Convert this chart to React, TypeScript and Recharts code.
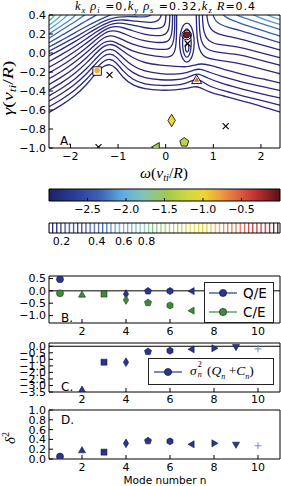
import React from "react"
import {
  ComposedChart,
  Legend,
  Line,
  ReferenceArea,
  ReferenceLine,
  Scatter,
  XAxis,
  YAxis,
} from "recharts"

const SANS = "DejaVu Sans"
const MATH = "Liberation Serif"
const NAVY = "#28297f"
const BLUE = "#2a3592"
const GREEN = "#3d8c3d"

// ---------- panel A: contours over (omega, gamma) ----------
// lines that pass under the bump near omega=-1.2 and under the well near omega=0.45
const lowerArches = [
  [[-2.5, -0.64], [-2.2, -0.555], [-1.9, -0.45], [-1.65, -0.33], [-1.45, -0.2], [-1.3, -0.135], [-1.17, -0.115], [-1.05, -0.15], [-0.9, -0.26], [-0.7, -0.34], [-0.45, -0.38], [-0.1, -0.395], [0.2, -0.39], [0.45, -0.375], [0.6, -0.35], [0.72, -0.36], [0.9, -0.41], [1.2, -0.45], [1.5, -0.49], [1.8, -0.53], [2.1, -0.575], [2.45, -0.63]],
  [[-2.5, -0.58], [-2.2, -0.495], [-1.9, -0.39], [-1.65, -0.275], [-1.45, -0.155], [-1.3, -0.08], [-1.17, -0.06], [-1.05, -0.09], [-0.9, -0.19], [-0.7, -0.28], [-0.45, -0.33], [-0.1, -0.345], [0.2, -0.34], [0.4, -0.325], [0.55, -0.29], [0.65, -0.27], [0.75, -0.29], [0.9, -0.35], [1.2, -0.395], [1.5, -0.435], [1.8, -0.475], [2.1, -0.51], [2.45, -0.555]],
  [[-2.5, -0.52], [-2.2, -0.435], [-1.9, -0.33], [-1.65, -0.215], [-1.45, -0.1], [-1.3, -0.025], [-1.17, -0.005], [-1.05, -0.03], [-0.9, -0.12], [-0.7, -0.21], [-0.45, -0.265], [-0.1, -0.285], [0.2, -0.285], [0.45, -0.265], [0.6, -0.225], [0.7, -0.215], [0.85, -0.26], [1.2, -0.325], [1.5, -0.365], [1.8, -0.405], [2.1, -0.44], [2.45, -0.48]],
  [[-2.5, -0.465], [-2.2, -0.38], [-1.9, -0.275], [-1.65, -0.16], [-1.45, -0.05], [-1.3, 0.025], [-1.17, 0.045], [-1.05, 0.025], [-0.9, -0.05], [-0.7, -0.135], [-0.45, -0.195], [-0.1, -0.22], [0.2, -0.225], [0.45, -0.21], [0.6, -0.175], [0.72, -0.165], [0.9, -0.2], [1.2, -0.25], [1.5, -0.29], [1.8, -0.33], [2.1, -0.36], [2.45, -0.4]],
  [[-2.5, -0.405], [-2.2, -0.32], [-1.9, -0.215], [-1.65, -0.1], [-1.45, 0.005], [-1.3, 0.075], [-1.17, 0.095], [-1.05, 0.08], [-0.9, 0.02], [-0.7, -0.05], [-0.45, -0.105], [-0.1, -0.13], [0.2, -0.14], [0.45, -0.15], [0.62, -0.125], [0.75, -0.11], [0.95, -0.13], [1.2, -0.17], [1.5, -0.21], [1.8, -0.25], [2.1, -0.28], [2.45, -0.32]],
]

// lines from the left edge that turn up beside the well and leave through the top
const leftRisers = [
  [[-2.5, -0.345], [-2.2, -0.26], [-1.9, -0.155], [-1.65, -0.045], [-1.45, 0.055], [-1.3, 0.115], [-1.17, 0.13], [-1.05, 0.115], [-0.9, 0.07], [-0.7, 0.02], [-0.45, -0.015], [-0.2, -0.035], [0.0, -0.045], [0.1, -0.04], [0.17, -0.01], [0.21, 0.05], [0.225, 0.15], [0.23, 0.25], [0.23, 0.35], [0.23, 0.45]],
  [[-2.5, -0.285], [-2.2, -0.2], [-1.9, -0.095], [-1.65, 0.01], [-1.45, 0.1], [-1.3, 0.165], [-1.17, 0.185], [-1.05, 0.175], [-0.9, 0.14], [-0.7, 0.09], [-0.45, 0.055], [-0.2, 0.04], [0.0, 0.035], [0.08, 0.045], [0.14, 0.08], [0.175, 0.15], [0.19, 0.25], [0.19, 0.35], [0.19, 0.45]],
  [[-2.5, -0.225], [-2.2, -0.14], [-1.9, -0.04], [-1.65, 0.06], [-1.45, 0.145], [-1.3, 0.205], [-1.17, 0.235], [-1.05, 0.235], [-0.9, 0.21], [-0.7, 0.165], [-0.45, 0.125], [-0.2, 0.11], [-0.02, 0.11], [0.07, 0.13], [0.12, 0.18], [0.14, 0.26], [0.145, 0.35], [0.145, 0.45]],
  [[-2.5, -0.165], [-2.2, -0.08], [-1.9, 0.015], [-1.65, 0.11], [-1.45, 0.185], [-1.3, 0.24], [-1.17, 0.27], [-1.05, 0.28], [-0.9, 0.27], [-0.7, 0.235], [-0.45, 0.195], [-0.2, 0.18], [-0.05, 0.185], [0.03, 0.21], [0.07, 0.26], [0.085, 0.33], [0.09, 0.45]],
  [[-2.5, -0.105], [-2.2, -0.02], [-1.9, 0.07], [-1.65, 0.155], [-1.45, 0.225], [-1.3, 0.27], [-1.17, 0.3], [-1.05, 0.315], [-0.9, 0.315], [-0.7, 0.295], [-0.45, 0.265], [-0.25, 0.255], [-0.1, 0.26], [-0.03, 0.285], [0.0, 0.33], [0.01, 0.45]],
  [[-2.5, -0.045], [-2.2, 0.035], [-1.9, 0.12], [-1.65, 0.2], [-1.45, 0.26], [-1.3, 0.3], [-1.17, 0.33], [-1.05, 0.345], [-0.9, 0.35], [-0.7, 0.34], [-0.45, 0.325], [-0.3, 0.32], [-0.17, 0.335], [-0.1, 0.37], [-0.08, 0.45]],
  [[-2.5, 0.005], [-2.2, 0.085], [-1.9, 0.165], [-1.65, 0.24], [-1.45, 0.295], [-1.3, 0.335], [-1.17, 0.36], [-1.0, 0.38], [-0.8, 0.385], [-0.55, 0.38], [-0.4, 0.38], [-0.3, 0.395], [-0.25, 0.45]],
]

// arcs in the top-left corner
const leftCorner = [
  [[-2.5, 0.05], [-2.2, 0.13], [-1.9, 0.215], [-1.65, 0.285], [-1.45, 0.335], [-1.3, 0.37], [-1.15, 0.4], [-1.05, 0.43]],
  [[-2.5, 0.095], [-2.2, 0.18], [-1.95, 0.255], [-1.75, 0.315], [-1.55, 0.37], [-1.4, 0.42]],
  [[-2.5, 0.14], [-2.25, 0.22], [-2.05, 0.285], [-1.85, 0.345], [-1.65, 0.42]],
  [[-2.5, 0.185], [-2.3, 0.25], [-2.1, 0.315], [-1.95, 0.37], [-1.85, 0.42]],
  [[-2.5, 0.23], [-2.3, 0.3], [-2.15, 0.355], [-2.03, 0.42]],
  [[-2.5, 0.275], [-2.35, 0.33], [-2.22, 0.38], [-2.17, 0.42]],
  [[-2.5, 0.32], [-2.38, 0.365], [-2.3, 0.42]],
  [[-2.5, 0.36], [-2.42, 0.42]],
]

// lines that come down from the top beside the well and run to the right edge
const rightDrops = [
  [[0.64, 0.45], [0.645, 0.3], [0.66, 0.15], [0.7, 0.04], [0.78, -0.03], [0.9, -0.06], [1.1, -0.075], [1.3, -0.09], [1.55, -0.11], [1.8, -0.14], [2.1, -0.18], [2.45, -0.225]],
  [[0.7, 0.45], [0.705, 0.3], [0.72, 0.18], [0.77, 0.09], [0.86, 0.04], [1.0, 0.015], [1.2, 0.0], [1.4, -0.01], [1.55, -0.02], [1.8, -0.05], [2.1, -0.09], [2.45, -0.135]],
  [[0.77, 0.45], [0.775, 0.32], [0.8, 0.22], [0.86, 0.15], [0.96, 0.11], [1.1, 0.09], [1.3, 0.08], [1.55, 0.06], [1.8, 0.03], [2.1, -0.01], [2.45, -0.055]],
  [[0.86, 0.45], [0.87, 0.35], [0.91, 0.28], [0.98, 0.23], [1.1, 0.2], [1.3, 0.175], [1.55, 0.15], [1.8, 0.115], [2.1, 0.075], [2.45, 0.025]],
  [[0.98, 0.45], [1.0, 0.38], [1.06, 0.33], [1.15, 0.3], [1.3, 0.27], [1.55, 0.24], [1.8, 0.2], [2.1, 0.155], [2.45, 0.1]],
  [[1.15, 0.45], [1.2, 0.4], [1.3, 0.365], [1.42, 0.34], [1.55, 0.315], [1.8, 0.275], [2.1, 0.225], [2.45, 0.17]],
  [[1.38, 0.45], [1.45, 0.41], [1.55, 0.385], [1.8, 0.345], [2.1, 0.295], [2.45, 0.24]],
  [[1.7, 0.45], [1.8, 0.41], [2.0, 0.365], [2.2, 0.33], [2.45, 0.295]],
  [[1.98, 0.45], [2.1, 0.41], [2.25, 0.375], [2.45, 0.345]],
  [[2.22, 0.45], [2.3, 0.415], [2.45, 0.385]],
]

// closed contours around the well
const wellLoops = [
  [[0.605, 0.11], [0.584, 0.2175], [0.525, 0.296], [0.445, 0.325], [0.365, 0.296], [0.306, 0.2175], [0.285, 0.11], [0.306, 0.0025], [0.365, -0.076], [0.445, -0.105], [0.525, -0.076], [0.584, 0.0025]],
  [[0.54, 0.105], [0.527, 0.1825], [0.4925, 0.239], [0.445, 0.26], [0.3975, 0.239], [0.363, 0.1825], [0.35, 0.105], [0.363, 0.0275], [0.3975, -0.029], [0.445, -0.05], [0.4925, -0.029], [0.527, 0.0275]],
  [[0.49, 0.055], [0.478, 0.09], [0.45, 0.105], [0.422, 0.09], [0.41, 0.055], [0.422, 0.02], [0.45, 0.005], [0.478, 0.02]],
]

const leftRiserColors = [NAVY, NAVY, NAVY, NAVY, NAVY, NAVY, "#2c3a8f"]
const leftCornerColors = ["#2f4598", "#3457ac", "#3d6fc1", "#4b8bd0", "#5ba3d9", "#58aab5", "#62b08e", "#74b36b"]
const rightDropColors = [NAVY, NAVY, NAVY, NAVY, "#2f469a", "#365cb0", "#4176c6", "#4f92d4", "#5aaad0", "#6ab39a"]

// eigenvalues (mode n) and other roots
const eigModes = [1, 2, 3, 4, 5, 7]
const eigOmega = [0.44, 0.65, -1.44, 0.125, 0.39, -0.19]
const eigGamma = [0.19, -0.29, -0.19, -0.71, -0.94, -0.99]
const eigLog10 = [-0.1, -0.55, -0.85, -1.0, -1.3, -1.45]
const rootOmega = [-1.18, 0.46, 1.26, -1.41]
const rootGamma = [-0.23, 0.1, -0.77, -0.99]

// ---------- panels B-D ----------
const modeN = [1, 2, 3, 4, 5, 6, 7, 8, 9, 10]
const qOverE = [0.47, null, null, -0.13, -0.01, -0.01, -0.01, null, null, null]
const cOverE = [-0.1, -0.17, -0.13, -0.37, -0.48, -0.59, -0.8, null, null, null]
const sigmaQC = [null, -3.35, -1.22, -1.22, -0.41, -0.34, -0.23, -0.15, -0.03, -0.2]
const delta2 = [0.05, 0.17, 0.14, 0.32, 0.37, 0.36, 0.3, 0.32, 0.3, 0.27]

const omegaTicks = [-2, -1, 0, 1, 2]
const gammaTicks = [0.4, 0.2, 0, -0.2, -0.4, -0.6, -0.8, -1.0]
const cb1Ticks = [-2.5, -2, -1.5, -1, -0.5]
const cb2Ticks = [0.2, 0.4, 0.6, 0.8]
const nTicks = [2, 4, 6, 8, 10]
const bTicks = [0.5, 0, -0.5, -1]
const cTicks = [0, -0.5, -1, -1.5, -2, -2.5, -3, -3.5]
const dTicks = [0, 0.2, 0.4, 0.6, 0.8, 1]

const MODE_MARK = ["o", "^", "s", "d", "p", "h", "<", ">", "v", "+"]

const JET_STOPS = [0, 0.1, 0.22, 0.32, 0.41, 0.51, 0.6, 0.67, 0.74, 0.81, 0.89, 1]
const JET_COLORS = ["#1c2266", "#273a94", "#3d62b4", "#62ace2", "#82c4b4", "#a2c850", "#d0d840", "#eed630", "#eea040", "#e06a40", "#c43232", "#5a1014"]

function hex(c: string) {
  return [1, 3, 5].map((i) => parseInt(c.slice(i, i + 2), 16))
}

function jet(t: number) {
  const x = Math.min(1, Math.max(0, t))
  let i = 0
  while (i < JET_STOPS.length - 2 && x > JET_STOPS[i + 1]) i++
  const f = (x - JET_STOPS[i]) / (JET_STOPS[i + 1] - JET_STOPS[i])
  const a = hex(JET_COLORS[i])
  const b = hex(JET_COLORS[i + 1])
  const m = a.map((v, k) => Math.round(v + (b[k] - v) * f))
  return `rgb(${m[0]},${m[1]},${m[2]})`
}

const fmt1 = (v: number) => (Math.abs(v) < 1e-9 ? "0.0" : v.toFixed(1)).replace("-", "\u2212")
const fmt0 = (v: number) => String(v).replace("-", "\u2212")
const toPts = (arr: number[][]) => arr.map(([w, g]) => ({ w, g }))

function ngon(k: number, r: number) {
  const out: number[][] = []
  for (let i = 0; i < k; i++) {
    const a = -Math.PI / 2 + (2 * Math.PI * i) / k
    out.push([r * Math.cos(a), r * Math.sin(a)])
  }
  return out
}

function marker(kind: string, cx: number, cy: number, s: number, fill: string, stroke: string, sw: number) {
  const r = s / 2
  let pts: number[][] | null = null
  switch (kind) {
    case "o":
      return <circle cx={cx} cy={cy} r={r} fill={fill} stroke={stroke} strokeWidth={sw} />
    case "^":
      pts = [[0, -1.15 * r], [-r, 0.6 * r], [r, 0.6 * r]]
      break
    case "v":
      pts = [[0, 1.15 * r], [-r, -0.6 * r], [r, -0.6 * r]]
      break
    case "<":
      pts = [[-1.15 * r, 0], [0.6 * r, -r], [0.6 * r, r]]
      break
    case ">":
      pts = [[1.15 * r, 0], [-0.6 * r, -r], [-0.6 * r, r]]
      break
    case "s":
      pts = [[-0.85 * r, -0.85 * r], [0.85 * r, -0.85 * r], [0.85 * r, 0.85 * r], [-0.85 * r, 0.85 * r]]
      break
    case "d":
      pts = [[0, -1.25 * r], [0.75 * r, 0], [0, 1.25 * r], [-0.75 * r, 0]]
      break
    case "p":
      pts = ngon(5, 1.05 * r)
      break
    case "h":
      pts = ngon(6, 1.0 * r)
      break
    case "+":
      return (
        <path d={`M${cx - r},${cy}H${cx + r}M${cx},${cy - r}V${cy + r}`} stroke={fill} strokeWidth={1} fill="none" />
      )
    case "x":
      return (
        <path
          d={`M${cx - r},${cy - r}L${cx + r},${cy + r}M${cx - r},${cy + r}L${cx + r},${cy - r}`}
          stroke={fill}
          strokeWidth={1.1}
          fill="none"
        />
      )
  }
  return (
    <polygon
      points={(pts || []).map(([x, y]) => `${cx + x},${cy + y}`).join(" ")}
      fill={fill}
      stroke={stroke}
      strokeWidth={sw}
    />
  )
}

const eigPts = eigModes.map((n, i) => ({ n, w: eigOmega[i], g: eigGamma[i], lv: eigLog10[i] }))
const rootPts = rootOmega.map((w, i) => ({ w, g: rootGamma[i] }))
const series = (vals: (number | null)[]) =>
  modeN.map((n, i) => ({ n, v: vals[i] })).filter((d) => d.v !== null)

function eigShape(p: any) {
  const { n, lv } = p.payload
  const { cx, cy } = p
  const kind = MODE_MARK[n - 1]
  const c = jet((lv + 3) / 3)
  if (n === 1)
    return (
      <g>
        <circle cx={cx} cy={cy} r={4.8} fill="none" stroke="#000" strokeWidth={0.9} />
        <circle cx={cx} cy={cy} r={3.2} fill={c} stroke="#000" strokeWidth={0.5} />
      </g>
    )
  if (n <= 3)
    return (
      <g>
        {marker(kind, cx, cy, 10, "#fff", "#000", 0.9)}
        {marker(kind === "s" ? "o" : kind, cx, cy - 0.5, 5.5, c, "none", 0)}
      </g>
    )
  return marker(kind, cx, cy, kind === "d" ? 10 : 9, c, "#000", 0.8)
}

const modeShape = (fill: string, edge: string, plus: string) => (p: any) => {
  const kind = MODE_MARK[p.payload.n - 1]
  return marker(kind, p.cx, p.cy, 7, kind === "+" ? plus : fill, edge, 0.6)
}

const tickStyle = { fill: "#000", fontSize: 11, fontFamily: SANS }

function frame(dom: number[], ticksX: number[], yDom: number[], ticksY: number[]) {
  return [
    <XAxis key="t" xAxisId="t" orientation="top" type="number" domain={dom} allowDataOverflow ticks={ticksX} interval={0} height={1} tickSize={-4} tick={false} stroke="#000" />,
    <YAxis key="r" yAxisId="r" orientation="right" type="number" domain={yDom} allowDataOverflow ticks={ticksY} interval={0} width={1} tickSize={-4} tick={false} stroke="#000" />,
  ]
}

const LabelsA = () => (
  <g>
    <text x={165} y={10} textAnchor="middle" fontFamily={MATH} fontSize={12.5} textLength={180} lengthAdjust="spacing">
      <tspan fontStyle="italic">k</tspan>
      <tspan fontStyle="italic" fontSize={8.5} dy={2.5}>x</tspan>
      <tspan fontStyle="italic" dy={-2.5}> ρ</tspan>
      <tspan fontStyle="italic" fontSize={8.5} dy={2.5}>i</tspan>
      <tspan fontFamily={SANS} fontSize={11} dy={-2.5}> =0,</tspan>
      <tspan fontStyle="italic">k</tspan>
      <tspan fontStyle="italic" fontSize={8.5} dy={2.5}>y</tspan>
      <tspan fontStyle="italic" dy={-2.5}> ρ</tspan>
      <tspan fontStyle="italic" fontSize={8.5} dy={2.5}>s</tspan>
      <tspan fontFamily={SANS} fontSize={11} dy={-2.5}> =0.32,</tspan>
      <tspan fontStyle="italic">k</tspan>
      <tspan fontStyle="italic" fontSize={8.5} dy={2.5}>z</tspan>
      <tspan fontStyle="italic" dy={-2.5}> R</tspan>
      <tspan fontFamily={SANS} fontSize={11}>=0.4</tspan>
    </text>
    <text x={164} y={178} textAnchor="middle" fontFamily={MATH} fontSize={15} textLength={48} lengthAdjust="spacingAndGlyphs">
      <tspan fontStyle="italic">ω</tspan>
      <tspan>(</tspan>
      <tspan fontStyle="italic">v</tspan>
      <tspan fontStyle="italic" fontSize={10} dy={3}>ti</tspan>
      <tspan dy={-3}>/</tspan>
      <tspan fontStyle="italic">R</tspan>
      <tspan>)</tspan>
    </text>
    <text transform="translate(13,88) rotate(-90)" textAnchor="middle" fontFamily={MATH} fontSize={14} textLength={55} lengthAdjust="spacingAndGlyphs">
      <tspan fontStyle="italic">γ</tspan>
      <tspan>(</tspan>
      <tspan fontStyle="italic">v</tspan>
      <tspan fontStyle="italic" fontSize={9.5} dy={3}>ti</tspan>
      <tspan dy={-3}>/</tspan>
      <tspan fontStyle="italic">R</tspan>
      <tspan>)</tspan>
    </text>
    <text x={60} y={145} fontFamily={SANS} fontSize={12}>A.</text>
  </g>
)

const LabelB = () => (
  <text x={61} y={52} fontFamily={SANS} fontSize={12}>B.</text>
)

const LabelC = () => (
  <text x={61} y={51} fontFamily={SANS} fontSize={12}>C.</text>
)

const LabelsD = () => (
  <g>
    <text x={61} y={20} fontFamily={SANS} fontSize={12}>D.</text>
    <text transform="translate(15,34) rotate(-90)" textAnchor="middle" fontFamily={MATH} fontSize={15}>
      <tspan fontStyle="italic">δ</tspan>
      <tspan fontSize={10} dy={-6}>2</tspan>
    </text>
    <text x={165} y={80} textAnchor="middle" fontFamily={SANS} fontSize={10.5}>Mode number n</text>
  </g>
)

const LegendB = () => (
  <div style={{ width: 68, height: 39, border: "1px solid #222", background: "#fff", position: "relative", fontFamily: SANS, fontSize: 13.5 }}>
    {[
      { c: BLUE, t: "Q/E", y: 10 },
      { c: GREEN, t: "C/E", y: 29 },
    ].map((r) => (
      <React.Fragment key={r.t}>
        <svg width={28} height={10} style={{ position: "absolute", left: 4, top: r.y - 5 }}>
          <line x1={0} y1={5} x2={28} y2={5} stroke={r.c} strokeWidth={1.2} />
          <circle cx={14} cy={5} r={3.6} fill={r.c} stroke="#111" strokeWidth={0.6} />
        </svg>
        <span style={{ position: "absolute", left: 38, top: r.y - 9, lineHeight: "18px" }}>{r.t}</span>
      </React.Fragment>
    ))}
  </div>
)

const LegendC = () => (
  <div style={{ width: 124, height: 25, border: "1px solid #222", background: "#fff", position: "relative", fontFamily: MATH, fontSize: 13.5 }}>
    <svg width={28} height={10} style={{ position: "absolute", left: 5, top: 8 }}>
      <line x1={0} y1={5} x2={28} y2={5} stroke={BLUE} strokeWidth={1.2} />
      <circle cx={14} cy={5} r={3.6} fill={BLUE} stroke="#111" strokeWidth={0.6} />
    </svg>
    <span style={{ position: "absolute", left: 41, top: 3, whiteSpace: "nowrap", lineHeight: "18px" }}>
      <i>σ</i>
      <span style={{ position: "relative", display: "inline-block", width: 7, height: 10 }}>
        <span style={{ position: "absolute", left: 1, top: -4, fontSize: 8, lineHeight: "8px" }}>2</span>
        <span style={{ position: "absolute", left: 1, top: 6, fontSize: 8, lineHeight: "8px", fontStyle: "italic" }}>n</span>
      </span>{" "}
      (<i>Q</i>
      <sub style={{ fontSize: 8, fontStyle: "italic" }}>n</sub> +<i>C</i>
      <sub style={{ fontSize: 8, fontStyle: "italic" }}>n</sub>)
    </span>
  </div>
)

export default function App() {
  const contourLines = [
    ...lowerArches.map((l) => ({ l, c: NAVY, closed: false })),
    ...leftRisers.map((l, i) => ({ l, c: leftRiserColors[i], closed: false })),
    ...leftCorner.map((l, i) => ({ l, c: leftCornerColors[i], closed: false })),
    ...rightDrops.map((l, i) => ({ l, c: rightDropColors[i], closed: false })),
    ...wellLoops.map((l) => ({ l, c: NAVY, closed: true })),
  ]
  const aDom = [-2.45, 2.4]
  const aY = [-1, 0.4]
  const nDom = [0.5, 11]
  const cb1Data = cb1Ticks.map((v) => ({ v, y: 0.5 }))
  const cb2Data = cb2Ticks.map((v) => ({ v, y: 0.5 }))

  return (
    <div style={{ position: "absolute", left: 0, top: 0, width: 281, height: 486, background: "#fff" }}>
      {/* A: contour map */}
      <div style={{ position: "absolute", left: 0, top: 0 }}>
        <ComposedChart width={281} height={186} margin={{ top: 14, right: 0, bottom: 0, left: 0 }}>
          <XAxis type="number" dataKey="w" domain={aDom} allowDataOverflow ticks={omegaTicks} interval={0} tickFormatter={fmt0} height={38} tickSize={-4} tickMargin={8} tick={tickStyle} stroke="#000" label={<LabelsA />} />
          <YAxis type="number" dataKey="g" domain={aY} allowDataOverflow ticks={gammaTicks} interval={0} tickFormatter={fmt1} width={49} tickSize={-4} tickMargin={7} tick={tickStyle} stroke="#000" />
          {frame(aDom, omegaTicks, aY, gammaTicks)}
          {contourLines.map((d, i) => (
            <Line
              key={i}
              data={toPts(d.l)}
              dataKey="g"
              type={d.closed ? "basisClosed" : "basis"}
              stroke={d.c}
              strokeWidth={1.3}
              dot={false}
              activeDot={false}
              isAnimationActive={false}
            />
          ))}
          <Scatter data={rootPts} dataKey="g" isAnimationActive={false} shape={(p: any) => marker("x", p.cx, p.cy, 6, "#000", "none", 0)} />
          <Scatter data={eigPts} dataKey="g" isAnimationActive={false} shape={eigShape} />
        </ComposedChart>
      </div>

      {/* colour bar of the eigenvalue markers */}
      <div style={{ position: "absolute", left: 0, top: 185 }}>
        <ComposedChart width={281} height={35} data={cb1Data} margin={{ top: 3, right: 0, bottom: 0, left: 0 }}>
          <defs>
            <linearGradient id="jetBar1" x1="0" y1="0" x2="1" y2="0">
              {JET_STOPS.map((o, i) => (
                <stop key={i} offset={o} stopColor={JET_COLORS[i]} />
              ))}
            </linearGradient>
          </defs>
          <ReferenceArea x1={-3} x2={0} y1={0} y2={1} fill="url(#jetBar1)" fillOpacity={1} stroke="none" />
          <XAxis type="number" dataKey="v" domain={[-3, 0]} allowDataOverflow ticks={cb1Ticks} interval={0} tickFormatter={fmt1} height={19} tickSize={-3} tickMargin={7} tick={tickStyle} stroke="#000" />
          <YAxis type="number" dataKey="y" domain={[0, 1]} allowDataOverflow width={49} tick={false} tickLine={false} stroke="#000" />
          <XAxis xAxisId="t" orientation="top" type="number" domain={[-3, 0]} allowDataOverflow ticks={cb1Ticks} interval={0} height={1} tickSize={-3} tick={false} stroke="#000" />
          <YAxis yAxisId="r" orientation="right" type="number" domain={[0, 1]} allowDataOverflow width={1} tick={false} tickLine={false} stroke="#000" />
        </ComposedChart>
      </div>

      {/* colour bar of the contour levels */}
      <div style={{ position: "absolute", left: 0, top: 219 }}>
        <ComposedChart width={281} height={32} data={cb2Data} margin={{ top: 3, right: 0, bottom: 0, left: 0 }}>
          <defs>
            <linearGradient id="jetBar2" x1="0" y1="0" x2="1" y2="0">
              {JET_STOPS.map((o, i) => (
                <stop key={i} offset={o} stopColor={JET_COLORS[i]} />
              ))}
            </linearGradient>
            <pattern id="levelStripes" patternUnits="userSpaceOnUse" x={52} y={0} width={4.17} height={40}>
              <rect x={0} y={0} width={1.2} height={40} fill="#fff" />
            </pattern>
            <mask id="levelMask" maskUnits="userSpaceOnUse" x={0} y={0} width={281} height={40}>
              <rect x={0} y={0} width={281} height={40} fill="url(#levelStripes)" />
            </mask>
          </defs>
          <ReferenceArea
            x1={0.145}
            x2={2.55}
            y1={0}
            y2={1}
            shape={(p: any) => (
              <rect x={p.x} y={p.y} width={p.width} height={p.height} fill="url(#jetBar2)" mask="url(#levelMask)" />
            )}
          />
          <XAxis type="number" dataKey="v" scale="sqrt" domain={[0.145, 2.55]} allowDataOverflow ticks={cb2Ticks} interval={0} tickFormatter={fmt1} height={18} tickLine={false} tickSize={0} tickMargin={4} tick={tickStyle} stroke="#000" />
          <YAxis type="number" dataKey="y" domain={[0, 1]} allowDataOverflow width={49} tick={false} tickLine={false} stroke="#000" />
          <XAxis xAxisId="t" orientation="top" type="number" domain={[0, 1]} allowDataOverflow height={1} tick={false} tickLine={false} stroke="#000" />
          <YAxis yAxisId="r" orientation="right" type="number" domain={[0, 1]} allowDataOverflow width={1} tick={false} tickLine={false} stroke="#000" />
        </ComposedChart>
      </div>

      {/* B: Q/E and C/E */}
      <div style={{ position: "absolute", left: 0, top: 270 }}>
        <ComposedChart width={281} height={70} margin={{ top: 5, right: 0, bottom: 0, left: 0 }}>
          <XAxis type="number" dataKey="n" domain={nDom} allowDataOverflow ticks={nTicks} interval={0} height={17} tickSize={-4} tickMargin={8} tick={tickStyle} stroke="#000" label={<LabelB />} />
          <YAxis type="number" dataKey="v" domain={[-1.3, 0.6]} allowDataOverflow ticks={bTicks} interval={0} tickFormatter={fmt1} width={49} tickSize={-4} tickMargin={7} tick={tickStyle} stroke="#000" />
          {frame(nDom, nTicks, [-1.3, 0.6], bTicks)}
          <ReferenceLine y={0} stroke="#000" strokeWidth={1} />
          <Scatter data={series(qOverE)} dataKey="v" isAnimationActive={false} shape={modeShape(BLUE, "#10143a", BLUE)} />
          <Scatter data={series(cOverE)} dataKey="v" isAnimationActive={false} shape={modeShape(GREEN, "#153815", GREEN)} />
          <Legend verticalAlign="middle" layout="horizontal" wrapperStyle={{ left: 204, top: 12, width: 70, height: 41 }} content={() => <LegendB />} />
        </ComposedChart>
      </div>

      {/* C: sigma^2 (Q + C) */}
      <div style={{ position: "absolute", left: 0, top: 340 }}>
        <ComposedChart width={281} height={66} margin={{ top: 2, right: 0, bottom: 0, left: 0 }}>
          <XAxis type="number" dataKey="n" domain={nDom} allowDataOverflow ticks={nTicks} interval={0} height={14} tickSize={-4} tickMargin={7} tick={tickStyle} stroke="#000" label={<LabelC />} />
          <YAxis type="number" dataKey="v" domain={[-3.5, 0.25]} allowDataOverflow ticks={cTicks} interval={0} tickFormatter={fmt1} width={49} tickSize={-4} tickMargin={7} tick={tickStyle} stroke="#000" />
          {frame(nDom, nTicks, [-3.5, 0.25], cTicks)}
          <ReferenceLine y={0} stroke="#000" strokeWidth={1} />
          <Scatter data={series(sigmaQC)} dataKey="v" isAnimationActive={false} shape={modeShape(BLUE, "#10143a", "#7886d8")} />
          <Legend verticalAlign="middle" layout="horizontal" wrapperStyle={{ left: 148, top: 18, width: 126, height: 27 }} content={() => <LegendC />} />
        </ComposedChart>
      </div>

      {/* D: delta^2 */}
      <div style={{ position: "absolute", left: 0, top: 404 }}>
        <ComposedChart width={281} height={82} margin={{ top: 5, right: 0, bottom: 0, left: 0 }}>
          <XAxis type="number" dataKey="n" domain={nDom} allowDataOverflow ticks={nTicks} interval={0} height={27} tickSize={-4} tickMargin={8} tick={tickStyle} stroke="#000" label={<LabelsD />} />
          <YAxis type="number" dataKey="v" domain={[0, 1]} allowDataOverflow ticks={dTicks} interval={0} tickFormatter={fmt1} width={49} tickSize={-4} tickMargin={7} tick={tickStyle} stroke="#000" />
          {frame(nDom, nTicks, [0, 1], dTicks)}
          <Scatter data={series(delta2)} dataKey="v" isAnimationActive={false} shape={modeShape(BLUE, "#10143a", "#7886d8")} />
        </ComposedChart>
      </div>
    </div>
  )
}
